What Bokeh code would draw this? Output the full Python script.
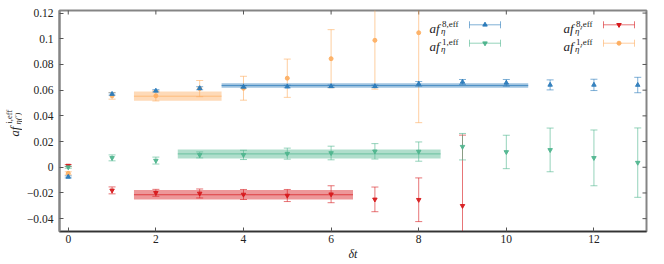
import numpy as np
from bokeh.plotting import figure
from bokeh.layouts import row
from bokeh.models import ColumnDataSource, FixedTicker, Label, Range1d
from bokeh.embed import file_html
from bokeh.resources import INLINE

# ---------------- data ----------------
t_eta8 = [0, 1, 2, 3, 4, 5, 6, 7, 8, 9, 10, 11, 12, 13]
eta8 = [-0.0075, 0.057, 0.0595, 0.0615, 0.0626, 0.0628, 0.063, 0.063, 0.0649, 0.0664, 0.0657, 0.0641, 0.0641, 0.064]
eta8_err = [0.0008, 0.0009, 0.0009, 0.0012, 0.0010, 0.0010, 0.0010, 0.0010, 0.0018, 0.0019, 0.0026, 0.0039, 0.0044, 0.0060]

t_eta1 = [0, 1, 2, 3, 4, 5, 6, 7, 8, 9, 10, 11, 12, 13]
eta1 = [0.0, 0.0073, 0.0052, 0.0096, 0.0096, 0.0106, 0.0111, 0.0124, 0.0122, 0.016, 0.0119, 0.0135, 0.0073, 0.0036]
eta1_err = [0.0008, 0.0023, 0.0027, 0.0023, 0.0036, 0.0043, 0.0053, 0.0060, 0.0075, 0.0103, 0.0130, 0.0170, 0.0217, 0.0270]

t_etap8 = [0, 1, 2, 3, 4, 5, 6, 7, 8, 9]
etap8 = [0.0013, -0.018, -0.0199, -0.0204, -0.0212, -0.022, -0.021, -0.025, -0.0253, -0.030]
etap8_err = [0.0008, 0.0027, 0.0027, 0.0035, 0.0039, 0.0047, 0.0066, 0.0096, 0.0170, 0.0550]

t_etap1 = [0, 1, 2, 3, 4, 5, 6, 7, 8]
etap1 = [-0.0047, 0.0556, 0.0556, 0.0612, 0.0615, 0.0693, 0.0845, 0.0988, 0.1047]
etap1_err = [0.0012, 0.0026, 0.0040, 0.0063, 0.0093, 0.0149, 0.0226, 0.0380, 0.0700]

# fit bands: [t_start, t_end], value, error
fit_eta8 = ([3.5, 10.5], 0.0636, 0.0018)
fit_eta1 = ([2.5, 8.5], 0.0104, 0.0035)
fit_etap8 = ([1.5, 6.5], -0.0214, 0.0037)
fit_etap1 = ([1.5, 3.5], 0.0553, 0.0036)

x_ticks = [0, 2, 4, 6, 8, 10, 12]
y_ticks = [-0.04, -0.02, 0, 0.02, 0.04, 0.06, 0.08, 0.1, 0.12]
y_tick_labels = ["\u22120.04", "\u22120.02", "0", "0.02", "0.04", "0.06", "0.08", "0.1", "0.12"]

# ---------------- style ----------------
BLUE = "#2b7bba"
GREEN = "#4fb58e"
RED = "#d7191c"
ORANGE = "#fdae61"
SERIF = "Liberation Serif"
TXT = "#222222"

X0, X1 = -0.2, 13.2
Y0, Y1 = -0.05, 0.122
W, H = 664, 264
LEFT_W = 22
TOP_B, BOT_B = 10, 33
LEFT_B, RIGHT_B = 37, 18

yr = Range1d(Y0, Y1)
p = figure(width=W - LEFT_W, height=H, output_backend="svg", toolbar_location=None,
           x_range=Range1d(X0, X1), y_range=yr,
           min_border_left=LEFT_B, min_border_right=RIGHT_B, min_border_top=TOP_B,
           min_border_bottom=BOT_B)
p.grid.visible = False
p.outline_line_color = "#858585"
p.outline_line_width = 2
p.background_fill_color = "white"

def style_axis(ax):
    ax.major_tick_in = 4
    ax.major_tick_out = 0
    ax.minor_tick_line_color = None
    ax.major_tick_line_color = "#555555"
    ax.axis_line_color = "#858585"
    ax.axis_line_width = 2
    ax.major_label_text_font = SERIF
    ax.major_label_text_font_size = "11.5px"
    ax.major_label_text_color = TXT

xax = p.xaxis[0]
xax.ticker = FixedTicker(ticks=x_ticks)
style_axis(xax)
xax.axis_line_color = "#333333"
xax.axis_line_width = 1.3
xax.major_label_standoff = 3
xax.axis_label = "\u03b4t"
xax.axis_label_text_font = SERIF
xax.axis_label_text_font_style = "italic"
xax.axis_label_text_font_size = "12px"
xax.axis_label_standoff = 1
xax.axis_label_text_color = TXT

yax = p.yaxis[0]
yax.ticker = FixedTicker(ticks=y_ticks)
style_axis(yax)
yax.major_label_standoff = 6
yax.major_label_overrides = {v: s for v, s in zip(y_ticks, y_tick_labels)}

# inward ticks on the top and right frame edges (half of each dash is clipped away)
p.scatter(x=x_ticks, y=[Y1] * len(x_ticks), marker="dash", angle=np.pi / 2, size=8,
          line_color="#555555", line_width=1)
p.scatter(x=[X1] * len(y_ticks), y=y_ticks, marker="dash", size=8,
          line_color="#555555", line_width=1)

def band(fit, color):
    (ta, tb), v, e = fit
    src = ColumnDataSource(dict(l=[ta], r=[tb], b=[v - e], t=[v + e], v=[v]))
    p.quad(left="l", right="r", bottom="b", top="t", source=src,
           fill_color=color, fill_alpha=0.45, line_color=None)
    p.segment(x0="l", x1="r", y0="v", y1="v", source=src, line_color=color,
              line_alpha=0.7, line_width=1)

def series(t, y, e, color, marker, size):
    y = np.array(y); e = np.array(e)
    src = ColumnDataSource(dict(t=t, y=y, lo=y - e, hi=y + e))
    p.segment(x0="t", x1="t", y0="lo", y1="hi", source=src, line_color=color,
              line_alpha=0.6, line_width=1)
    p.scatter(x="t", y="lo", source=src, marker="dash", size=7, line_color=color,
              line_alpha=0.6, line_width=1)
    p.scatter(x="t", y="hi", source=src, marker="dash", size=7, line_color=color,
              line_alpha=0.6, line_width=1)
    p.scatter(x="t", y="y", source=src, marker=marker, size=size, fill_color=color,
              line_color=color, fill_alpha=0.9, line_alpha=0.9)

series(t_etap1, etap1, etap1_err, ORANGE, "circle", 4)
band(fit_etap1, ORANGE)
series(t_etap8, etap8, etap8_err, RED, "inverted_triangle", 4.5)
band(fit_etap8, RED)
series(t_eta1, eta1, eta1_err, GREEN, "inverted_triangle", 4.5)
band(fit_eta1, GREEN)
series(t_eta8, eta8, eta8_err, BLUE, "triangle", 4.5)
band(fit_eta8, BLUE)

# ---------------- legend (layout positions in frame pixels) ----------------
FW = float(W - LEFT_W - LEFT_B - RIGHT_B)
FH = float(H - TOP_B - BOT_B)
def dx(px):
    return X0 + px * (X1 - X0) / FW
def dy(py):
    return Y1 - py * (Y1 - Y0) / FH

legend_items = [
    ("8,eff", "\u03b7", BLUE, "triangle", 410, 14.3),
    ("1,eff", "\u03b7", GREEN, "inverted_triangle", 410, 32.7),
    ("8,eff", "\u03b7\u2032", RED, "inverted_triangle", 544, 14.3),
    ("1,eff", "\u03b7\u2032", ORANGE, "circle", 544, 32.7),
]
for sup, sub, color, marker, lx, ly in legend_items:
    xa, xb, yy = dx(lx), dx(lx + 31), dy(ly)
    src = ColumnDataSource(dict(xa=[xa], xb=[xb], y=[yy], xm=[(xa + xb) / 2]))
    p.segment(x0="xa", x1="xb", y0="y", y1="y", source=src, line_color=color,
              line_alpha=0.6, line_width=1)
    p.scatter(x="xa", y="y", source=src, marker="dash", angle=np.pi / 2, size=7,
              line_color=color, line_alpha=0.6)
    p.scatter(x="xb", y="y", source=src, marker="dash", angle=np.pi / 2, size=7,
              line_color=color, line_alpha=0.6)
    p.scatter(x="xm", y="y", source=src, marker=marker, size=4.5 if marker != "circle" else 4,
              fill_color=color, line_color=color)
    tx = dx(lx - 40)
    ty = dy(ly + 3.5)
    p.add_layout(Label(x=tx, y=ty, text="af", text_font=SERIF, text_font_style="italic",
                       text_font_size="13px", text_baseline="alphabetic", text_color=TXT))
    p.add_layout(Label(x=tx, y=ty, x_offset=12.5, y_offset=4.5, text=sup, text_font=SERIF,
                       text_font_size="9px", text_baseline="alphabetic", text_color=TXT))
    p.add_layout(Label(x=tx, y=ty, x_offset=11.5, y_offset=-2.5, text=sub, text_font=SERIF,
                       text_font_style="italic", text_font_size="9px",
                       text_baseline="alphabetic", text_color=TXT))

# ---------------- y-axis label in a narrow side panel ----------------
lp = figure(width=LEFT_W, height=H, output_backend="svg", toolbar_location=None,
            x_range=Range1d(0, LEFT_W), y_range=yr,
            min_border_left=0, min_border_right=0, min_border_top=TOP_B,
            min_border_bottom=BOT_B)
lp.axis.visible = False
lp.grid.visible = False
lp.outline_line_color = None
yl_y = dy(126)
lp.add_layout(Label(x=14.5, y=yl_y, text="af", angle=np.pi / 2, text_font=SERIF,
                    text_font_style="italic", text_font_size="12.5px",
                    text_baseline="alphabetic", text_color=TXT))
lp.add_layout(Label(x=8, y=yl_y, y_offset=13, text="i,eff", angle=np.pi / 2,
                    text_font=SERIF, text_font_size="8.5px", text_baseline="alphabetic",
                    text_color=TXT))
lp.add_layout(Label(x=17, y=yl_y, y_offset=12, text="\u03b7(\u2032)", angle=np.pi / 2,
                    text_font=SERIF, text_font_style="italic", text_font_size="8.5px",
                    text_baseline="alphabetic", text_color=TXT))

layout = row(lp, p)
open("out.html", "w").write(file_html(layout, INLINE))
